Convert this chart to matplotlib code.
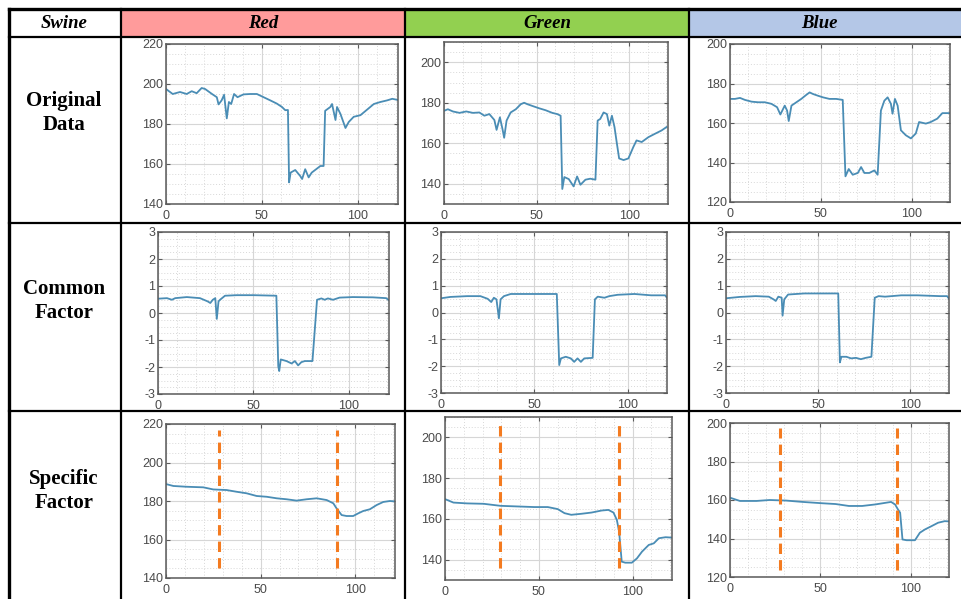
import numpy as np
import matplotlib
matplotlib.use("Agg")
import matplotlib.pyplot as plt
from matplotlib.patches import Rectangle
from matplotlib.ticker import MultipleLocator

plt.rcParams["axes.unicode_minus"] = False

# ---- data (x = sample index, y = value) ----
red_orig_x = [0, 3.5, 7.3, 10.8, 13.4, 16, 18.6, 20.4, 24, 26.5, 27.4, 29, 30.3, 31.7, 32.8, 34, 35.5, 37.3,
              40.4, 43.9, 47.4, 50.9, 54.4, 57.8, 60.5, 62.2, 63.6, 64.2, 65, 67.4, 70, 71, 72.6, 74.4, 76,
              80.5, 82.2, 83, 85.7, 86.6, 88.4, 89.2, 91, 93.6, 95.3, 97.9, 101.4, 104.9, 108.4, 111.8,
              115.3, 118, 121]
red_orig_y = [197.5, 195, 196, 195, 196.4, 195.4, 198, 197.5, 195, 193.4, 189.8, 191.8, 194.6, 182.8, 191,
              190, 195, 193.4, 194.8, 195, 195, 193.4, 191.8, 190.2, 188.5, 186.9, 187, 150.8, 155.7, 157,
              154, 152.5, 157.4, 153.3, 155.7, 159, 159, 186.6, 188.5, 190, 182, 188.5, 185, 178, 181,
              183.6, 184.4, 187.2, 190, 191, 191.8, 192.6, 192]

green_orig_x = [0, 2.1, 4.8, 8.4, 12, 15.6, 19.1, 21.8, 24.5, 27.2, 28.4, 30.2, 31.6, 32.5, 33.8, 36, 38.8,
                41.5, 43.3, 45, 47.8, 51.3, 54.9, 58.5, 61.2, 63, 63.9, 65, 67.4, 70, 71.9, 73.7, 76.4, 79,
                81.8, 83, 84.4, 86.2, 88, 89.3, 90.7, 92.1, 93.4, 94.6, 97, 99.6, 102.3, 104, 106.8, 110.4,
                114, 117.5, 120.2]
green_orig_y = [176, 176.8, 175.7, 175, 175.7, 175, 175.2, 173.6, 174.4, 171.5, 166.6, 172.8, 167, 162.7,
                171.2, 175.2, 176.8, 179.3, 180, 179.3, 178.4, 177.3, 176.3, 175, 174.4, 173.6, 137.4, 143.3,
                142.3, 138.7, 143.6, 139.5, 142, 142.5, 142, 171.2, 172, 175.2, 174.4, 168.7, 173.6, 168,
                159.8, 152.5, 151.7, 152.5, 158.2, 161.4, 160.6, 163, 164.7, 166.3, 168]

blue_orig_x = [0, 2.7, 5.5, 8.2, 11.9, 15.5, 19.2, 22.8, 25.9, 27.7, 30.1, 31.4, 32.3, 33.8, 36.5, 39.2,
               41.9, 43.8, 45.6, 48.4, 51.1, 54.7, 58.4, 62, 63.5, 65.3, 67.5, 70.3, 72.1, 73.9, 76.6, 79.4,
               81.2, 83, 84.9, 86.7, 88.5, 89.4, 90.7, 92.2, 94, 96.7, 99.5, 102.2, 104, 107.7, 110.4, 114,
               116.8, 121]
blue_orig_y = [172.2, 172.2, 172.7, 171.7, 170.8, 170.5, 170.5, 169.7, 168, 164.3, 168.8, 166.3, 161, 168.8,
               170.5, 172.2, 174.2, 175.5, 174.7, 173.8, 173, 172.2, 172.2, 171.7, 133, 136.7, 133.8, 134.7,
               137.7, 134.7, 134.7, 136, 133.8, 166.3, 171.3, 173, 169.7, 164.7, 172.2, 168.8, 156.3, 153.8,
               152.2, 154.7, 160.5, 159.7, 160.5, 162.2, 165, 165]

red_comm_x = [0, 4.7, 7.3, 9, 15.1, 22, 26, 27.4, 28.7, 30, 30.8, 31.7, 32.5, 35.1, 41.2, 50, 62, 63, 63.5,
              64.3, 67.3, 70, 71.7, 73.4, 75.1, 76.9, 80.9, 83.3, 85.6, 87.3, 89, 91.7, 95.1, 102, 112.5,
              119.5, 121]
red_comm_y = [0.53, 0.55, 0.49, 0.55, 0.59, 0.55, 0.43, 0.37, 0.49, 0.55, -0.22, 0.43, 0.49, 0.64, 0.66,
              0.66, 0.64, -1.97, -2.15, -1.72, -1.78, -1.87, -1.78, -1.94, -1.82, -1.78, -1.78, 0.49, 0.54,
              0.49, 0.54, 0.49, 0.57, 0.59, 0.58, 0.55, 0.47]

green_comm_x = [0, 5, 14, 21.1, 25, 26.9, 28.3, 29.7, 31, 31.9, 33.7, 37.3, 49.8, 62, 63.3, 64.2, 66.8,
                69.5, 71.3, 73.1, 74.9, 76.7, 81.2, 82.4, 83.9, 87.5, 90.1, 94.6, 103.6, 112.5, 120, 121]
green_comm_y = [0.53, 0.58, 0.61, 0.61, 0.51, 0.39, 0.55, 0.49, -0.22, 0.49, 0.61, 0.69, 0.69, 0.69, -1.96,
                -1.71, -1.65, -1.71, -1.84, -1.71, -1.84, -1.71, -1.69, 0.49, 0.59, 0.55, 0.61, 0.66, 0.69,
                0.64, 0.64, 0.55]

blue_comm_x = [0, 7.4, 16.1, 23.2, 25.8, 27, 28.4, 30.2, 30.7, 31.6, 33.7, 42.5, 51.2, 60.9, 61.8, 62.6,
               65.3, 67.9, 70.5, 73.2, 75.8, 78.9, 80.7, 82.8, 86.3, 95.1, 103.9, 116.1, 120, 121]
blue_comm_y = [0.53, 0.58, 0.61, 0.59, 0.49, 0.43, 0.59, 0.55, -0.12, 0.49, 0.67, 0.71, 0.71, 0.71, -1.86,
               -1.65, -1.65, -1.71, -1.69, -1.74, -1.69, -1.65, 0.55, 0.61, 0.59, 0.64, 0.64, 0.61, 0.61,
               0.51]

red_spec_x = [0, 3.9, 10.9, 19.7, 25, 32, 37.3, 42.6, 47.9, 53.2, 58.5, 63.7, 69, 74.3, 79.6, 84.9, 88.4,
              90.1, 92.8, 95.4, 98.9, 101.6, 104.2, 107.7, 111.3, 114.8, 118.3, 121]
red_spec_y = [188.8, 187.8, 187.4, 187.1, 186, 185.7, 184.8, 184, 182.6, 182.2, 181.4, 180.9, 180.2, 180.9,
              181.4, 180.5, 178.8, 176.2, 172.7, 172.2, 172.2, 173.6, 174.8, 175.7, 177.9, 179.5, 180,
              179.8]

green_spec_x = [0, 4.5, 11.7, 20.6, 29.6, 38.6, 47.6, 54.8, 60.1, 63.7, 67.3, 72.7, 78.1, 83.5, 87.1, 89.8,
                91.6, 92.8, 94.2, 96.1, 99.6, 102.3, 105, 108.6, 111.3, 114, 117.6, 121]
green_spec_y = [169.7, 168, 167.6, 167.4, 166.4, 166.1, 165.8, 165.8, 164.8, 162.8, 162, 162.5, 163.1,
                164.1, 164.4, 163.1, 159.5, 153.8, 139, 138.5, 138.5, 140.6, 143.9, 147.2, 148, 150.5, 151,
                150.8]

blue_spec_x = [0, 5.5, 14.6, 21.9, 31, 40.1, 51.1, 58.4, 65.7, 73, 80.3, 89, 91.2, 92.8, 94, 95.3, 97.6,
               102.2, 104.9, 107.7, 111.3, 115, 118.6, 121]
blue_spec_y = [161.2, 159.5, 159.5, 160, 159.7, 159, 158.3, 157.9, 156.9, 156.9, 157.7, 159, 157.7, 155.1,
               153.4, 139.5, 139.1, 139.1, 143, 144.7, 146.4, 148.2, 149, 148.9]

# orange change-point markers in the specific factor row
red_marks = [28.2, 90.1]
green_marks = [29.3, 92.8]
blue_marks = [27.7, 92.5]
red_mark_span = (145, 217)
green_mark_span = (136, 206)
blue_mark_span = (123.5, 197.5)

col_names = ["Red", "Green", "Blue"]
col_colors = ["#ff9b9b", "#92d050", "#b4c7e7"]
row_names = ["Original\nData", "Common\nFactor", "Specific\nFactor"]

orig_ylims = [(140, 220), (130, 210), (120, 200)]
orig_yticks = [[140, 160, 180, 200, 220], [140, 160, 180, 200], [120, 140, 160, 180, 200]]

W, H = 962, 599
fig = plt.figure(figsize=(W / 100, H / 100), dpi=100)
fig.patch.set_facecolor("white")

# background axes in pixel coordinates for the table grid
bg = fig.add_axes([0, 0, 1, 1], zorder=0)
bg.set_xlim(0, W)
bg.set_ylim(H, 0)
bg.axis("off")

hdr_top, hdr_bot = 9, 37
col_x = [9, 121, 405, 689, 962]
row_y = [37, 223, 411, 599]
for i, c in enumerate(col_colors):
    bg.add_patch(Rectangle((col_x[i + 1], hdr_top), col_x[i + 2] - col_x[i + 1], hdr_bot - hdr_top,
                           facecolor=c, edgecolor="none"))
bg.plot([col_x[0], W], [hdr_top, hdr_top], color="black", lw=2.4)
bg.plot([col_x[0], col_x[0]], [hdr_top, H], color="black", lw=2.4)
for y in [hdr_bot, row_y[1], row_y[2]]:
    bg.plot([col_x[0], W], [y, y], color="black", lw=1.6)
for x in col_x[1:4]:
    bg.plot([x, x], [hdr_top, H], color="black", lw=1.6)

serif = ["Liberation Serif", "DejaVu Serif"]
bg.text(64, 24, "Swine", ha="center", va="center", fontsize=13.5, fontweight="bold",
        fontstyle="italic", family=serif)
for i, name in enumerate(col_names):
    bg.text((col_x[i + 1] + col_x[i + 2]) / 2 - (6 if i == 2 else 0), 24, name, ha="center",
            va="center", fontsize=13.5, fontweight="bold", fontstyle="italic", family=serif)
for name, yc in zip(row_names, [113, 301, 491]):
    bg.text(64, yc, name, ha="center", va="center", fontsize=15, fontweight="bold",
            family=serif, linespacing=1.25)

# subplot boxes in pixels: left, top, right, bottom
boxes = [
    [(166, 44, 398, 204), (444, 42, 668, 204), (730, 44, 950, 202)],
    [(158, 232, 389, 394), (441, 232, 667, 393), (726, 232, 949, 393)],
    [(166, 424, 395, 578), (445, 417, 672, 580), (730, 423, 949, 577)],
]

series = [
    [(red_orig_x, red_orig_y), (green_orig_x, green_orig_y), (blue_orig_x, blue_orig_y)],
    [(red_comm_x, red_comm_y), (green_comm_x, green_comm_y), (blue_comm_x, blue_comm_y)],
    [(red_spec_x, red_spec_y), (green_spec_x, green_spec_y), (blue_spec_x, blue_spec_y)],
]
marks = [red_marks, green_marks, blue_marks]
spans = [red_mark_span, green_mark_span, blue_mark_span]

line_c = "#4a8db5"
for r in range(3):
    for c in range(3):
        l, t, rr, b = boxes[r][c]
        ax = fig.add_axes([l / W, 1 - b / H, (rr - l) / W, (b - t) / H], zorder=2)
        x, y = series[r][c]
        ax.plot(x, y, color=line_c, lw=1.3, solid_joinstyle="round")
        ax.set_xlim(0, 121)
        ax.set_xticks([0, 50, 100])
        ax.xaxis.set_minor_locator(MultipleLocator(10))
        if r == 1:
            ax.set_ylim(-3, 3)
            ax.set_yticks([-3, -2, -1, 0, 1, 2, 3])
            ax.yaxis.set_minor_locator(MultipleLocator(0.25))
        else:
            ax.set_ylim(*orig_ylims[c])
            ax.set_yticks(orig_yticks[c])
            ax.yaxis.set_minor_locator(MultipleLocator(5))
        if r == 2:
            lo, hi = spans[c]
            for xm in marks[c]:
                ax.plot([xm, xm], [lo, hi], color="#f47b20", lw=2.2, dashes=(3.4, 2.0))
        ax.grid(which="major", color="#d6d6d6", lw=0.8)
        ax.grid(which="minor", color="#d8d8d8", lw=0.7, ls=(0, (1, 2)))
        ax.set_axisbelow(True)
        for s in ax.spines.values():
            s.set_color("#5a5a5a")
            s.set_linewidth(1.1)
        ax.tick_params(which="major", direction="in", length=3, width=0.8, color="#5a5a5a",
                       labelsize=9, labelcolor="#4a4a4a", pad=2, top=True, right=True)
        ax.tick_params(axis="x", which="major", pad=4)
        ax.tick_params(which="minor", length=0)
        for lab in ax.get_xticklabels() + ax.get_yticklabels():
            lab.set_family(["Liberation Sans", "DejaVu Sans"])

fig.savefig("out.png", dpi=100)
